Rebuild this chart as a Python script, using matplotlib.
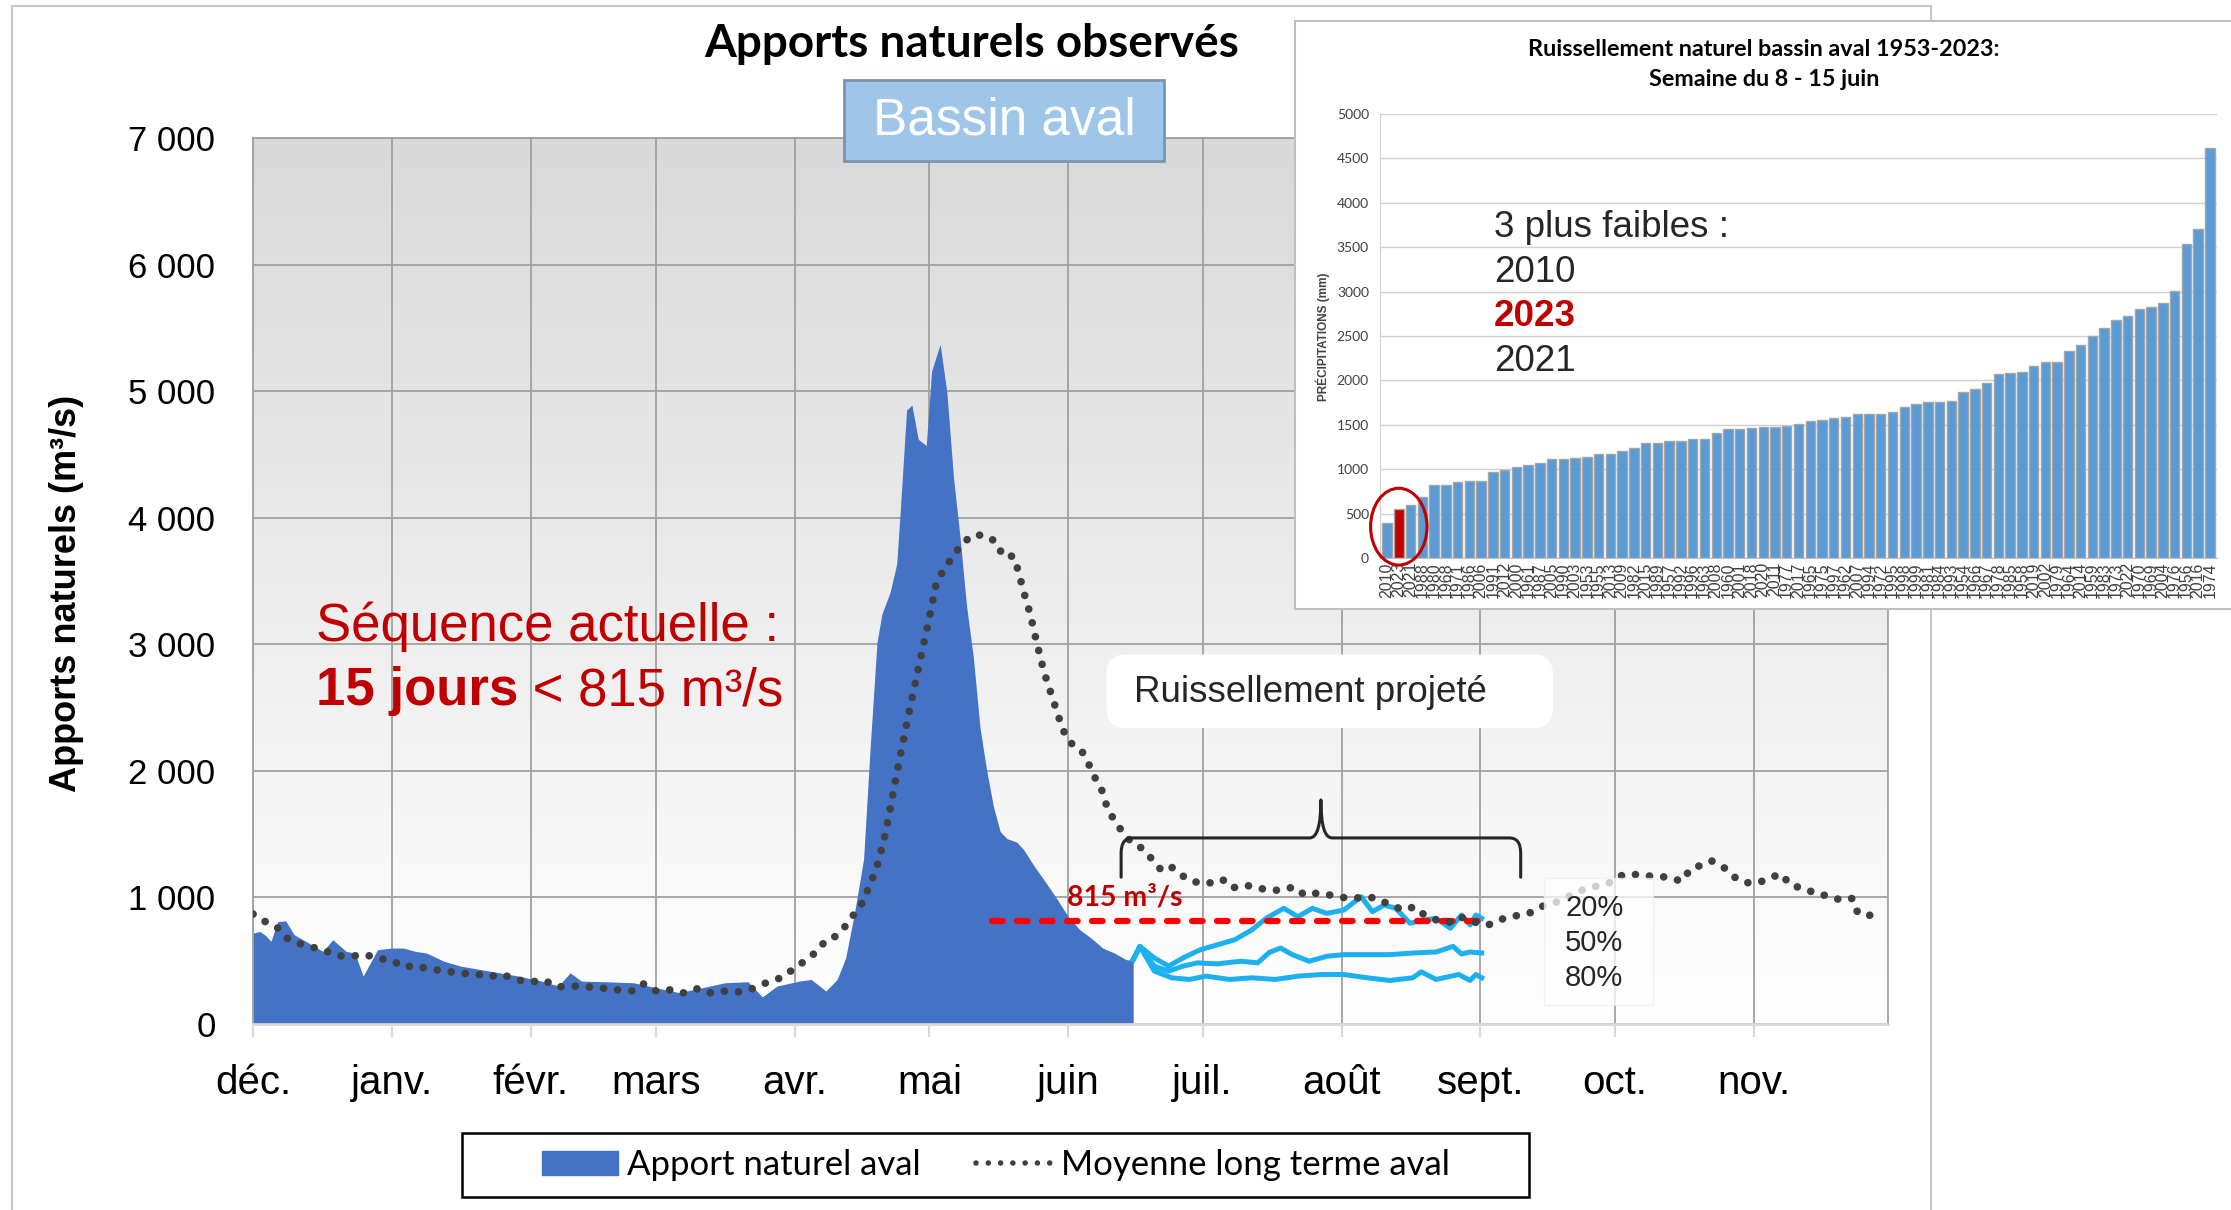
import matplotlib
matplotlib.use('Agg')
import matplotlib.pyplot as plt
import numpy as np
from matplotlib import font_manager
from matplotlib.colors import LinearSegmentedColormap
from matplotlib.patches import Rectangle, Patch, Ellipse, FancyBboxPatch, PathPatch
from matplotlib.lines import Line2D
from matplotlib.path import Path
from matplotlib.ticker import FuncFormatter

# ---- data (days counted from 1 December) ----
MONTH_LABELS = ['déc.', 'janv.', 'févr.', 'mars', 'avr.', 'mai', 'juin',
                'juil.', 'août', 'sept.', 'oct.', 'nov.']
MONTH_START = [0, 31, 62, 90, 121, 151, 182, 212, 243, 274, 304, 335]

obs_days = [0, 1.5, 2.8, 4, 5.5, 7.3, 9.2, 11.8, 15.6, 17.8,
            20.8, 22.7, 24.6, 27.8, 31, 33.6, 36.2, 38.7, 42.6, 46.4,
            52.8, 59.2, 64.4, 68.2, 70.8, 73.3, 78.5, 84.9, 90, 95.1,
            100.3, 105.4, 110.5, 113.7, 117, 122, 124.6, 127.9, 130.4, 132.3,
            134.2, 136.3, 137.8, 139.3, 140.4, 142.2, 143.7, 144.5, 145.9, 147.1,
            148.5, 150.3, 151.5, 153.4, 154.9, 156.4, 157.8, 159.3, 160.8, 162.3,
            163.8, 165.3, 166.8, 168.3, 170.5, 172, 174.3, 176.9, 179.4, 182,
            184.6, 187.1, 189.7, 192.3, 194.9, 196.5]
obs_vals = [718, 731, 700, 653, 809, 815, 705, 653, 574, 666,
            574, 561, 379, 587, 600, 600, 574, 561, 496, 457,
            418, 379, 339, 300, 405, 339, 334, 326, 287, 248,
            287, 326, 334, 214, 300, 339, 352, 261, 352, 522,
            862, 1301, 2197, 3014, 3240, 3408, 3634, 4056, 4850, 4890,
            4620, 4570, 5160, 5370, 4990, 4310, 3860, 3300, 2900, 2340,
            2000, 1717, 1520, 1465, 1437, 1380, 1253, 1122, 992, 848,
            744, 679, 600, 561, 509, 501]

moy_days = [0, 3.1, 5.6, 7.8, 10.5, 13.1, 15.9, 18.6, 21.8, 25,
            28.2, 31, 33.6, 36.2, 39.4, 42.6, 46, 49.4, 52.6, 55.6,
            58.8, 61.8, 65, 67.8, 70.1, 73.3, 76.3, 79.5, 82.3, 84.9,
            87.1, 89.6, 92.6, 95.8, 99, 101.5, 104.4, 106.7, 109.2, 112.1,
            115.3, 118.2, 120.5, 123.3, 125.9, 127.8, 130, 132.3, 134.2, 136.2,
            137.4, 138.7, 139.7, 141.3, 143.7, 146.3, 148.5, 150.6, 152.6, 154.6,
            158.4, 161.2, 164.1, 166.1, 167.4, 169.7, 170.8, 172, 173.5, 175,
            176.6, 178.7, 180.8, 182.4, 185, 186.6, 188, 189.5, 190.5, 192,
            193.9, 196.1, 198, 200.3, 202.5, 204.4, 206.4, 208.9, 212.1, 214.1,
            216.4, 218.5, 221.7, 224.3, 226.9, 229.4, 232.4, 234.8, 237.8, 240.6,
            243.3, 245.7, 248.4, 251, 253.8, 257, 259.3, 261.5, 264.7, 266.9,
            269.4, 272.8, 275.8, 278.2, 280.7, 283, 285.2, 287.5, 289.7, 292.9,
            294.8, 296.7, 299.3, 302.5, 305.1, 307.6, 310.2, 313.1, 315.9, 318.9,
            321.1, 323.3, 325.6, 328.4, 330.7, 333, 335.8, 338.4, 341, 343.5,
            346.1, 349.3, 351.9, 354.4, 357, 358.3, 360.2, 362.1]
moy_vals = [869, 801, 757, 671, 634, 608, 582, 540, 535, 548,
            517, 504, 449, 462, 431, 423, 399, 399, 373, 392,
            350, 331, 347, 292, 298, 300, 287, 279, 266, 261,
            318, 261, 274, 243, 279, 243, 261, 256, 253, 287,
            337, 368, 431, 501, 574, 658, 692, 775, 869, 966,
            1075, 1185, 1292, 1521, 1977, 2437, 2803, 3146, 3493, 3611,
            3803, 3868, 3851, 3800, 3696, 3696, 3586, 3420, 3240, 3008,
            2780, 2552, 2324, 2225, 2158, 2051, 1944, 1845, 1732, 1625,
            1527, 1436, 1400, 1318, 1227, 1258, 1201, 1135, 1109, 1117,
            1143, 1075, 1096, 1075, 1057, 1057, 1083, 1018, 1036, 1018,
            1000, 992, 1005, 992, 940, 900, 927, 861, 814, 801,
            848, 804, 783, 822, 848, 861, 880, 927, 945, 992,
            1031, 1057, 1083, 1109, 1169, 1188, 1169, 1169, 1159, 1128,
            1232, 1253, 1289, 1235, 1161, 1117, 1114, 1148, 1188, 1091,
            1075, 1023, 1013, 979, 992, 874, 861, 856]

p20_days = [196.5, 198, 201.2, 204.4, 207.6, 211.5, 215.3, 219.2, 223, 226.2,
            230.1, 233.3, 236.5, 239.7, 243.5, 247.4, 249.9, 252.5, 255.1, 258.3,
            261.5, 264.1, 267.3, 269.8, 271.7, 273, 274.3]
p20_vals = [509, 613, 522, 457, 522, 587, 626, 666, 744, 835,
            914, 848, 914, 874, 900, 1005, 887, 940, 914, 796,
            822, 835, 757, 861, 783, 861, 835]
p50_days = [196.5, 198, 201.2, 204.4, 207.6, 210.8, 215.3, 220.5, 224.3, 226.9,
            229.4, 232, 235.8, 239.7, 243.5, 248.7, 253.8, 258.9, 264.1, 267.9,
            269.8, 271.7, 274.3]
p50_vals = [509, 613, 457, 418, 457, 483, 475, 496, 483, 566,
            600, 548, 496, 535, 548, 548, 548, 561, 569, 613,
            553, 569, 561]
p80_days = [196.5, 198, 201.2, 205.1, 209, 212.8, 218, 223, 228.2, 233.3,
            238.4, 243.5, 248.7, 253.8, 258.9, 260.8, 264.1, 269.2, 271.7, 273,
            274.3]
p80_vals = [509, 613, 418, 365, 352, 378, 352, 365, 352, 378,
            391, 391, 365, 344, 365, 412, 352, 391, 344, 391,
            365]

SEUIL = 815
seuil_days = [165, 275.8]

# inset: weekly runoff 8-15 June, sorted
inset_years = ['2010', '2023', '2021', '1988', '1980', '1968', '1971', '1986', '2006', '1991',
               '2012', '2000', '1961', '1987', '2005', '1990', '2003', '1953', '1955', '2013',
               '2009', '1982', '2015', '1989', '1957', '1992', '1996', '1963', '2008', '1960',
               '2001', '2018', '2020', '2011', '1977', '2017', '1965', '1975', '1997', '1962',
               '2007', '1994', '1972', '1995', '1998', '1999', '1981', '1984', '1993', '1954',
               '1966', '1967', '1978', '1985', '1958', '2019', '2002', '1979', '1964', '2014',
               '1959', '1983', '1973', '2022', '1970', '1969', '2004', '1976', '1956', '2016',
               '1974']
inset_vals = [390, 550, 595, 690, 820, 820, 855, 870, 870, 970,
              990, 1020, 1050, 1075, 1110, 1110, 1130, 1140, 1175, 1175,
              1205, 1240, 1290, 1300, 1320, 1320, 1335, 1345, 1410, 1450,
              1450, 1460, 1475, 1475, 1485, 1505, 1545, 1555, 1580, 1590,
              1620, 1620, 1620, 1645, 1705, 1730, 1755, 1760, 1765, 1870,
              1900, 1975, 2070, 2080, 2100, 2165, 2205, 2205, 2335, 2395,
              2505, 2590, 2680, 2730, 2800, 2830, 2875, 3005, 3540, 3710,
              4615]

# ---- style ----
W, H = 2231, 1210
ARIAL = 'Liberation Sans'
CALIB = 'Lato'
_names = {f.name for f in font_manager.fontManager.ttflist}
NARROW = 'Liberation Sans Narrow' if 'Liberation Sans Narrow' in _names else None
BLUE = '#4472c4'
CYAN = '#1cb0ef'
DARKRED = '#c00000'
DOTS = '#404040'
GRID = '#a0a0a0'


def fx(px):
    return px / W


def fy(py):
    return 1 - py / H


fig = plt.figure(figsize=(W / 100, H / 100), dpi=100)
fig.patch.set_facecolor('white')

# outer slide frame
fig.add_artist(Rectangle((fx(12), -0.02), fx(1931) - fx(12), fy(6) + 0.02,
                         transform=fig.transFigure, fill=False, ec='#c8c8c8',
                         lw=1.5, zorder=-1))

# ---- main chart ----
ax = fig.add_axes([fx(253), fy(1024), fx(1888) - fx(253), fy(138) - fy(1024)])
ax.set_facecolor('none')
grad = np.linspace(0, 1, 256).reshape(-1, 1)
cmap = LinearSegmentedColormap.from_list('bg', ['#ffffff', '#d9d9d9'])
ax.imshow(grad, extent=[0, 1, 0, 1], transform=ax.transAxes, cmap=cmap,
          aspect='auto', origin='lower', zorder=0)

ax.fill_between(obs_days, obs_vals, 0, color=BLUE, lw=0, zorder=1)
for d, v in [(p20_days, p20_vals), (p50_days, p50_vals), (p80_days, p80_vals)]:
    ax.plot(d, v, color=CYAN, lw=3.6, solid_joinstyle='round', zorder=2)
ax.plot(seuil_days, [SEUIL, SEUIL], color='#ff0000', lw=4.5,
        linestyle=(0, (1.7, 2.3)), dash_capstyle='round', zorder=3)
ax.plot(moy_days, moy_vals, color=DOTS, lw=5.5, linestyle=(0, (0.01, 1.85)),
        dash_capstyle='round', zorder=4)

ax.set_xlim(0, 365)
ax.set_ylim(0, 7000)
ax.set_xticks(MONTH_START)
ax.set_xticklabels(MONTH_LABELS, fontsize=29, family=ARIAL)
ax.set_yticks(np.arange(0, 7001, 1000))
ax.yaxis.set_major_formatter(FuncFormatter(lambda v, p: f'{int(v):,}'.replace(',', '\u00a0')))
for lab in ax.get_yticklabels():
    lab.set_family(ARIAL)
ax.tick_params(axis='y', labelsize=25, length=0, pad=27)
ax.tick_params(axis='x', length=9, width=1.5, color='#d9d9d9', pad=20)
ax.set_axisbelow(True)
ax.grid(True, color=GRID, lw=1.3)
for s in ['top', 'left', 'right']:
    ax.spines[s].set_color(GRID)
    ax.spines[s].set_linewidth(1.3)
ax.spines['bottom'].set_color('#d9d9d9')
ax.spines['bottom'].set_linewidth(2)

# percentile labels with a light box
ax.add_patch(Rectangle((288.2, 150), 24.3, 1000, fc='white', ec='#eeeeee',
                       alpha=0.75, zorder=4.5))
for lab, yv in [('20%', 914), ('50%', 640), ('80%', 365)]:
    ax.text(292.9, yv, lab, fontsize=21, family=ARIAL, color='#262626',
            va='center', ha='left', zorder=6)

ax.text(181.7, 1000, '815 m³/s', fontsize=20.5, family=CALIB, weight='bold',
        color=DARKRED, va='center', ha='left', zorder=6)

# brace over projected period
bx0, bx1, bxm = 193.8, 283.0, 238.4
by_leg, by_h, by_tip = 1160, 1470, 1770
verts = [(bx0, by_leg), (bx0, by_h - 120), (bx0, by_h), (bx0 + 2.5, by_h),
         (bxm - 2.5, by_h), (bxm, by_h), (bxm, by_tip),
         (bxm, by_h), (bxm + 2.5, by_h),
         (bx1 - 2.5, by_h), (bx1, by_h), (bx1, by_h - 120), (bx1, by_leg)]
codes = [Path.MOVETO, Path.LINETO, Path.CURVE3, Path.CURVE3,
         Path.LINETO, Path.CURVE3, Path.CURVE3,
         Path.CURVE3, Path.CURVE3,
         Path.LINETO, Path.CURVE3, Path.CURVE3, Path.LINETO]
ax.add_patch(PathPatch(Path(verts, codes), fill=False, ec='#262626', lw=2.2,
                       zorder=5, capstyle='round', joinstyle='round'))

# "Ruissellement projeté" box
ax_w = fx(1888) - fx(253)
ax_h = fy(138) - fy(1024)
ax.add_patch(FancyBboxPatch((0.522, 0.334), 0.273, 0.083, transform=ax.transAxes,
                            boxstyle='round,pad=0,rounding_size=0.012',
                            mutation_aspect=(ax_w * W) / (ax_h * H),
                            fc='white', ec='none', zorder=5))
ax.text(196.6, 2619, 'Ruissellement projeté', fontsize=26.5, family=ARIAL,
        color='#262626', va='center', ha='left', zorder=6)

# current sequence text
ax.text(14, 3136, 'Séquence actuelle :', fontsize=38, family=ARIAL,
        color=DARKRED, va='center', ha='left', zorder=6)
t1 = ax.text(14, 2630, '15 jours', fontsize=38, family=ARIAL, weight='bold',
             color=DARKRED, va='center', ha='left', zorder=6)
ax.annotate(' < 815 m³/s', xy=(1, 0), xycoords=t1, fontsize=38, family=ARIAL,
            color=DARKRED, va='bottom', ha='left', zorder=6)

# y label and titles
fig.text(fx(67), fy(593), 'Apports naturels (m³/s)', rotation=90, fontsize=26,
         family=ARIAL, weight='bold', ha='center', va='center')
fig.text(fx(972), fy(44), 'Apports naturels observés', fontsize=33, family=CALIB,
         weight='bold', ha='center', va='center')
fig.add_artist(Rectangle((fx(844), fy(161)), fx(1164) - fx(844), fy(80) - fy(161),
                         transform=fig.transFigure, fc='#9fc5e8', ec='#7896b4',
                         lw=2, zorder=5))
fig.text(fx(1004), fy(121), 'Bassin aval', fontsize=37, family=ARIAL,
         color='white', ha='center', va='center', zorder=6)

# legend
fig.add_artist(Rectangle((fx(462), fy(1197)), fx(1529) - fx(462), fy(1133) - fy(1197),
                         transform=fig.transFigure, fill=False, ec='black', lw=1.8))
handles = [Patch(facecolor=BLUE, edgecolor=BLUE),
           Line2D([], [], color=DOTS, lw=4, linestyle=(0, (0.01, 2.2)),
                  dash_capstyle='round')]
fig.legend(handles, ['Apport naturel aval', 'Moyenne long terme aval'],
           loc='center', bbox_to_anchor=(fx(996), fy(1165)), ncol=2, frameon=False,
           prop={'family': CALIB, 'size': 25}, handlelength=2.2,
           handletextpad=0.25, columnspacing=1.6)

# ---- inset ----
fig.add_artist(Rectangle((fx(1295), fy(609)), 0.43, fy(21) - fy(609),
                         transform=fig.transFigure, fc='white', ec='#bfbfbf',
                         lw=1.5, zorder=2))
axi = fig.add_axes([fx(1380), fy(558), fx(2217) - fx(1380), fy(114) - fy(558)])
axi.set_zorder(3)
x = np.arange(len(inset_vals))
colors = [DARKRED if y == '2023' else '#5b9bd5' for y in inset_years]
axi.bar(x, inset_vals, width=0.8, color=colors, edgecolor='#a5a5a5', lw=1.0, zorder=2)
axi.set_xlim(-0.6, len(inset_vals) - 0.4)
axi.set_ylim(0, 5000)
axi.set_yticks(np.arange(0, 5001, 500))
axi.set_xticks(x)
axi.set_xticklabels(inset_years, rotation=90, fontsize=11.5, family=ARIAL, color='#404040')
for lab in axi.get_yticklabels():
    lab.set_family(CALIB)
axi.tick_params(axis='y', labelsize=10, length=0, pad=8, labelcolor='#404040')
axi.tick_params(axis='x', length=0, pad=3)
axi.set_axisbelow(True)
axi.grid(axis='y', color='#d0d0d0', lw=1.0)
axi.spines['top'].set_visible(False)
axi.spines['right'].set_visible(False)
axi.spines['left'].set_color('#d0d0d0')
axi.spines['bottom'].set_color('#bfbfbf')
axi.add_patch(Ellipse((1, 353), width=4.8, height=865, fill=False, ec=DARKRED,
                      lw=2.2, clip_on=False, zorder=5))

if NARROW:
    big_font, big_size = NARROW, 31
else:
    big_font, big_size = ARIAL, 26.5
axi.text(0.136, 0.744, '3 plus faibles :', transform=axi.transAxes, family=big_font,
         fontsize=big_size, color='#262626', va='center', ha='left', zorder=6)
axi.text(0.136, 0.644, '2010', transform=axi.transAxes, family=big_font,
         fontsize=big_size, color='#262626', va='center', ha='left', zorder=6)
axi.text(0.136, 0.545, '2023', transform=axi.transAxes, family=big_font,
         fontsize=big_size, color=DARKRED, weight='bold', va='center', ha='left', zorder=6)
axi.text(0.136, 0.442, '2021', transform=axi.transAxes, family=big_font,
         fontsize=big_size, color='#262626', va='center', ha='left', zorder=6)

fig.text(fx(1764), fy(50), 'Ruissellement naturel bassin aval 1953-2023:', fontsize=16.8,
         family=CALIB, weight='bold', ha='center', va='center', zorder=4)
fig.text(fx(1764), fy(80), 'Semaine du 8 - 15 juin', fontsize=16.8,
         family=CALIB, weight='bold', ha='center', va='center', zorder=4)
fig.text(fx(1323), fy(337), 'PRÉCIPITATIONS (mm)', rotation=90, fontsize=8.5,
         family=ARIAL, weight='bold', color='#404040', ha='center', va='center', zorder=4)

fig.savefig('out.png', dpi=100, facecolor='white')
